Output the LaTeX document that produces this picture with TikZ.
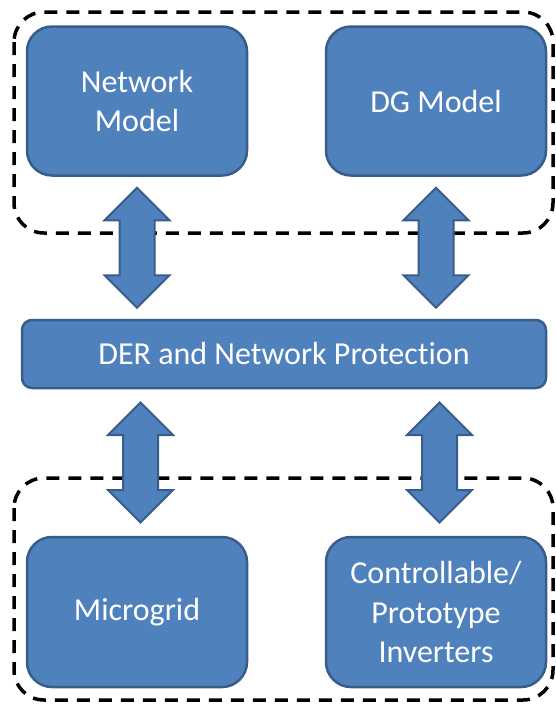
\documentclass[tikz,border=0pt]{standalone}
\usepackage{fontspec}
\setmainfont{Carlito}[Ligatures=NoCommon]
\usetikzlibrary{shapes.arrows,calc}

\definecolor{boxfill}{HTML}{4F81BD}
\definecolor{boxline}{HTML}{385D8A}

\begin{document}
\begin{tikzpicture}[x=1pt, y=-1pt,
    block/.style={draw=boxline, fill=boxfill, line width=2.5pt, rounded corners=25pt,
        minimum width=220pt, minimum height=149pt, text=white, align=center,
        font=\fontsize{32}{39.5}\selectfont, inner sep=0pt},
    group/.style={draw=black, dash pattern=on 13pt off 9pt, line width=3.5pt, rounded corners=30pt},
    link/.style={draw=boxline, fill=boxfill, line width=2pt, double arrow, rotate=90,
        minimum height=120pt, minimum width=63pt, double arrow head extend=15pt,
        inner xsep=0pt, inner ysep=16.5pt}]

    \useasboundingbox (0,0) rectangle (555,704);

    % Dashed groups
    \draw[group] (14,12) rectangle (553,233);
    \draw[group] (14,478) rectangle (553,700);

    % Models
    \node[block] (netmodel) at (137,101) {Network\\Model};
    \node[block] (dgmodel) at (436,101) {DG Model};

    % Protection
    \node[block, minimum width=524pt, minimum height=68pt, rounded corners=10pt] (protection) at (284,354) {DER and Network Protection};

    % Hardware
    \node[block, minimum height=150pt] (microgrid) at (137,612) {Microgrid};
    \node[block, minimum height=150pt] (inverters) at (436,612) {Controllable/\\Prototype\\Inverters};

    % Links
    \node[link] (netlink) at ($(netmodel.south)!0.5!(protection.north -| netmodel.south)$) {};
    \node[link] (dglink) at ($(dgmodel.south)!0.5!(protection.north -| dgmodel.south)$) {};
    \node[link, yshift=-3.5pt] (gridlink) at ($(microgrid.north)!0.5!(protection.south -| microgrid.north)$) {};
    \node[link, yshift=-3.5pt] (invlink) at ($(inverters.north)!0.5!(protection.south -| inverters.north)$) {};

\end{tikzpicture}
\end{document}
